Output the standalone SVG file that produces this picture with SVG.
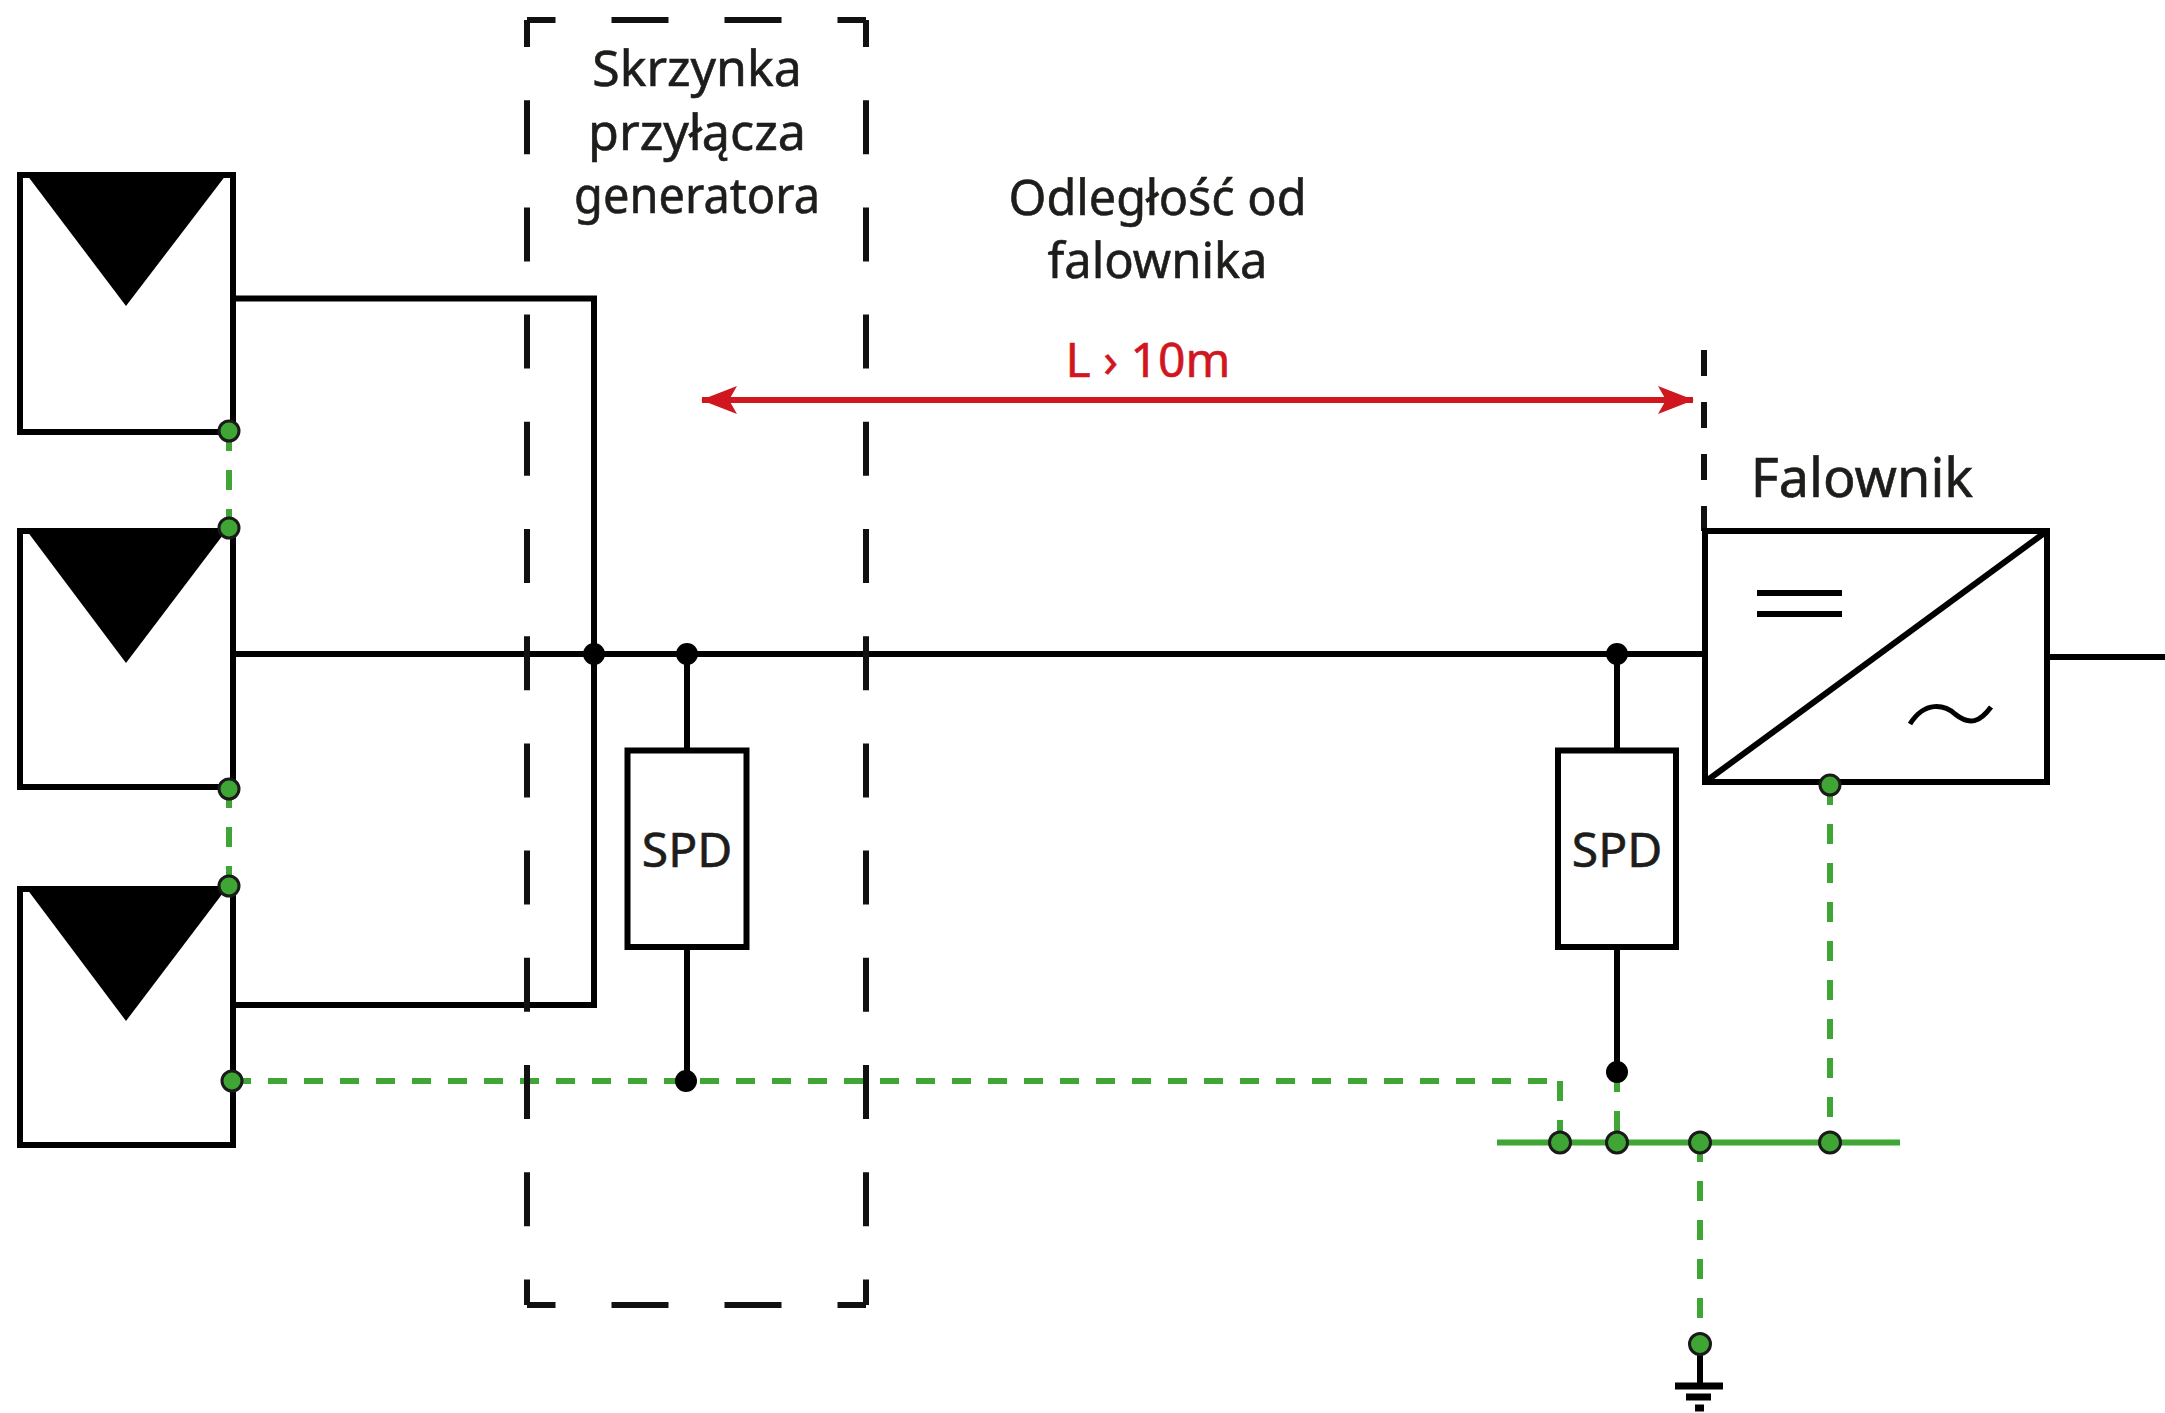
<svg xmlns="http://www.w3.org/2000/svg" width="2165" height="1413" viewBox="0 0 2165 1413">
<style>
text{font-family:"Noto Sans","Open Sans","Liberation Sans",sans-serif;font-size:50px;fill:#1d1d1b;stroke:#1d1d1b;stroke-width:.6;text-anchor:middle}
.w{fill:none;stroke:#000;stroke-width:6}
.box{fill:#fff;stroke:#000;stroke-width:6}
.g{fill:none;stroke:#3fa535;stroke-width:6;stroke-dasharray:20 19}
.gh{fill:none;stroke:#3fa535;stroke-width:6;stroke-dasharray:19 17}
.gd{fill:#3fa535;stroke:#1a1a1a;stroke-width:3}
.bd{fill:#000}
.dash{fill:none;stroke:#111;stroke-width:6}
.tri{fill:#000}
</style>
<defs>
<marker id="ah" viewBox="0 0 36 28" refX="35" refY="14" markerWidth="36" markerHeight="28" markerUnits="userSpaceOnUse" orient="auto-start-reverse"><path d="M0 0L36 14L0 28L8 14Z" fill="#d0161e"/></marker>
</defs>
<g id="connectors">
<path class="w" d="M233 298.500H594V1005H233"/>
<path class="w" d="M233 654H1705"/>
<path class="w" d="M2047 657H2165"/>
<path class="w" d="M687 654V750M687 947V1081"/>
<path class="w" d="M1617 654V750M1617 947V1072"/>
<path class="g" d="M229 431V528"/>
<path class="g" d="M229 788V886"/>
<path class="gh" d="M232 1081H1560"/>
<path class="g" d="M1560 1081V1142"/>
<path class="g" d="M1617 1072V1142"/>
<path class="g" d="M1830 785V1142"/>
<path class="g" d="M1700 1142V1344"/>
<path fill="none" stroke="#3fa535" stroke-width="6" d="M1497 1142.500H1900"/>
<path class="w" d="M1700 1344V1386"/>
<path fill="none" stroke="#000" stroke-width="7" d="M1675 1386H1723M1686 1397H1711M1695 1408H1704"/>
<path fill="none" stroke="#d0161e" stroke-width="6" marker-start="url(#ah)" marker-end="url(#ah)" d="M702 400H1693"/>
</g>
<g id="junction-box">
<path class="dash" stroke-dasharray="54 53.2" stroke-dashoffset="27" d="M527 20V1305"/>
<path class="dash" stroke-dasharray="54 53.2" stroke-dashoffset="27" d="M866 20V1305"/>
<path class="dash" stroke-dasharray="57 56" stroke-dashoffset="28.5" d="M527 20H866"/>
<path class="dash" stroke-dasharray="57 56" stroke-dashoffset="28.5" d="M527 1305H866"/>
<text x="697" y="86">Skrzynka</text>
<text x="697" y="150" textLength="218" lengthAdjust="spacingAndGlyphs">przyłącza</text>
<text x="697" y="213" textLength="246" lengthAdjust="spacingAndGlyphs">generatora</text>
</g>
<g id="panel-1"><rect class="box" x="20" y="175" width="213" height="257"/><path class="tri" d="M27 175H226L126 306Z"/></g>
<g id="panel-2"><rect class="box" x="20" y="531" width="213" height="256"/><path class="tri" d="M27 531H226L126 663Z"/></g>
<g id="panel-3"><rect class="box" x="20" y="889" width="213" height="256"/><path class="tri" d="M27 889H226L126 1021Z"/></g>
<g id="spd-1"><rect class="box" x="627.500" y="750.500" width="119" height="196.500" stroke-width="5"/><text x="687" y="867" style="font-size:48px">SPD</text></g>
<g id="spd-2"><rect class="box" x="1558" y="750.500" width="118" height="196.500" stroke-width="5"/><text x="1617" y="867" style="font-size:48px">SPD</text></g>
<g id="inverter">
<path class="dash" stroke-dasharray="26 26" d="M1704 350V531"/>
<rect class="box" x="1705" y="531" width="342" height="251"/>
<path fill="none" stroke="#000" stroke-width="6" d="M1705 782L2047 531"/>
<path fill="none" stroke="#000" stroke-width="6" d="M1757 593H1842M1757 614H1842"/>
<path fill="none" stroke="#000" stroke-width="5" d="M1910 724C1925 700 1945 705 1955 714C1970 726 1980 722 1991 707"/>
<text x="1862" y="497" style="font-size:54px">Falownik</text>
</g>
<g id="distance-label">
<text x="1157.500" y="215" textLength="298" lengthAdjust="spacingAndGlyphs">Odległość od</text>
<text x="1157.500" y="278" textLength="220" lengthAdjust="spacingAndGlyphs">falownika</text>
<text x="1148" y="377" style="fill:#d0161e;stroke:#d0161e;font-size:48px">L › 10m</text>
</g>
<g id="dots">
<circle class="gd" cx="229" cy="431" r="10"/><circle class="gd" cx="229" cy="528" r="10"/>
<circle class="gd" cx="229" cy="789" r="10"/><circle class="gd" cx="229" cy="886" r="10"/>
<circle class="gd" cx="232" cy="1081" r="10"/>
<circle class="gd" cx="1560" cy="1142.500" r="10.500"/><circle class="gd" cx="1617" cy="1142.500" r="10.500"/>
<circle class="gd" cx="1700" cy="1142.500" r="10.500"/><circle class="gd" cx="1830" cy="1142.500" r="10.500"/>
<circle class="gd" cx="1830" cy="785" r="10"/><circle class="gd" cx="1700" cy="1344" r="10.500"/>
<circle class="bd" cx="594" cy="654" r="11"/><circle class="bd" cx="687" cy="654" r="11"/>
<circle class="bd" cx="1617" cy="654" r="11"/><circle class="bd" cx="686" cy="1081" r="11"/>
<circle class="bd" cx="1617" cy="1072" r="11"/>
</g>
</svg>
